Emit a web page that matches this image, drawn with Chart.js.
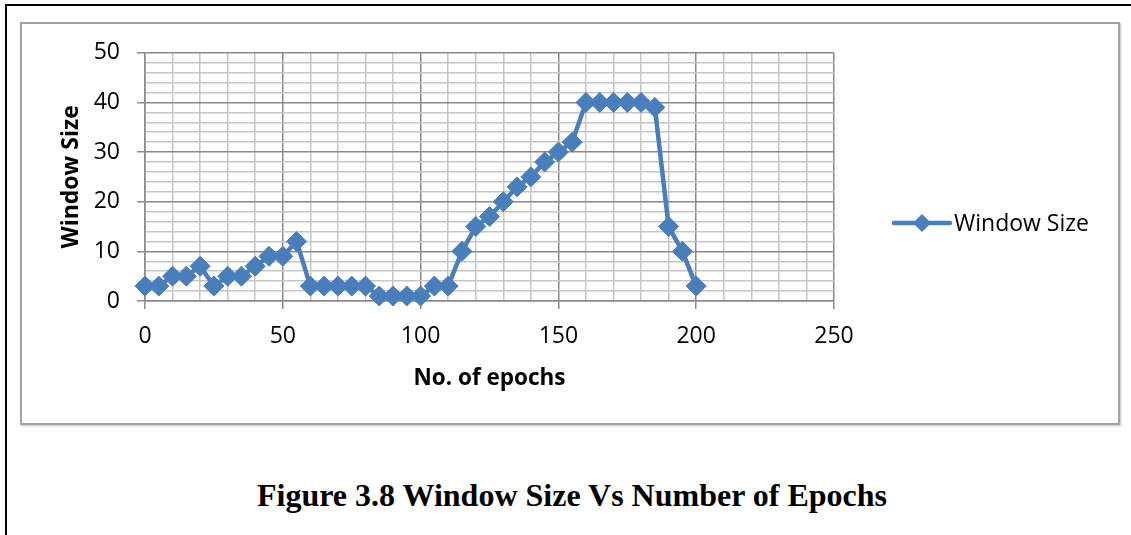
<!DOCTYPE html>
<html>
<head>
<meta charset="utf-8">
<script src="https://cdn.jsdelivr.net/npm/chart.js@4.4.1/dist/chart.umd.min.js"></script>
<style>
  html, body { margin: 0; padding: 0; background: #fff; }
  body { width: 1131px; height: 535px; position: relative; overflow: hidden; }
  #page-rule-top { position: absolute; left: 5px; top: 4px; width: 1126px; height: 2px; background: #000; }
  #page-rule-left { position: absolute; left: 5px; top: 4px; width: 2px; height: 531px; background: #000; }
  #chart-box {
    position: absolute; left: 20px; top: 22px; width: 1096px; height: 399px;
    border: 2px solid #a3a3a3; box-shadow: 1px 1px 2px rgba(0,0,0,0.25); background: #fff;
  }
  #plot { position: absolute; left: 20px; top: 22px; }
  #caption {
    position: absolute; left: 257px; top: 479px; white-space: nowrap;
    font-family: "Liberation Serif", "Times New Roman", serif; font-weight: bold;
    font-size: 32px; line-height: 32px; color: #000;
  }
</style>
</head>
<body>
<div id="page-rule-top"></div>
<div id="page-rule-left"></div>
<div id="chart-box"></div>
<canvas id="plot" width="1099" height="403"></canvas>
<div id="caption">Figure 3.8 Window Size Vs Number of Epochs</div>
<script>
// Epoch numbers and the window size recorded at each one
const epochs = [0, 5, 10, 15, 20, 25, 30, 35, 40, 45, 50, 55, 60, 65, 70, 75, 80, 85, 90, 95, 100,
                105, 110, 115, 120, 125, 130, 135, 140, 145, 150, 155, 160, 165, 170, 175, 180, 185, 190, 195, 200];
const windowSize = [3, 3, 5, 5, 7, 3, 5, 5, 7, 9, 9, 12, 3, 3, 3, 3, 3, 1, 1, 1, 1,
                    3, 3, 10, 15, 17, 20, 23, 25, 28, 30, 32, 40, 40, 40, 40, 40, 39, 15, 10, 3];
const seriesName = 'Window Size';
const xTitle = 'No. of epochs';
const yTitle = 'Window Size';
const xRange = [0, 250];
const yRange = [0, 50];

const BLUE = '#4A7EBB';
const MAJOR = '#8a8a8a';
const MINOR = '#c6c6c6';
const FONT = '"Open Sans", "Liberation Sans", sans-serif';

// Legend entry on the right: a line segment with a diamond marker and the series name
const sideLegend = {
  id: 'sideLegend',
  afterDraw(chart) {
    const ctx = chart.ctx;
    const ds = chart.data.datasets[0];
    const y = 201, x0 = 874, x1 = 930, xm = (x0 + x1) / 2, r = 9;
    ctx.save();
    ctx.strokeStyle = ds.borderColor;
    ctx.lineWidth = 4.5;
    ctx.lineCap = 'round';
    ctx.beginPath(); ctx.moveTo(x0, y); ctx.lineTo(x1, y); ctx.stroke();
    ctx.fillStyle = ds.pointBackgroundColor;
    ctx.beginPath();
    ctx.moveTo(xm, y - r); ctx.lineTo(xm + r, y); ctx.lineTo(xm, y + r); ctx.lineTo(xm - r, y);
    ctx.closePath(); ctx.fill();
    ctx.fillStyle = '#000';
    ctx.font = '23px ' + FONT;
    ctx.textBaseline = 'middle';
    ctx.textAlign = 'left';
    ctx.fillText(ds.label, 934, y + 1);
    ctx.restore();
  }
};

new Chart(document.getElementById('plot'), {
  type: 'line',
  data: {
    datasets: [{
      label: seriesName,
      data: epochs.map((e, i) => ({ x: e, y: windowSize[i] })),
      borderColor: BLUE,
      backgroundColor: BLUE,
      pointBackgroundColor: BLUE,
      pointBorderColor: BLUE,
      borderWidth: 4.5,
      pointStyle: 'rectRot',
      pointRadius: 10,
      pointBorderWidth: 1,
      tension: 0,
      clip: false
    }]
  },
  options: {
    responsive: false,
    animation: false,
    events: [],
    layout: { padding: { left: 0, top: 29, right: 285, bottom: 0 } },
    plugins: { legend: { display: false }, tooltip: { enabled: false } },
    scales: {
      x: {
        type: 'linear', min: xRange[0], max: xRange[1],
        afterFit(s) { s.height = 124; },
        border: { color: MAJOR, width: 1.5 },
        grid: {
          color: c => (c.tick.value % 50 === 0 ? MAJOR : MINOR),
          lineWidth: 1.5,
          tickColor: c => (c.tick.value % 50 === 0 ? MAJOR : 'rgba(0,0,0,0)'),
          tickLength: 8
        },
        ticks: {
          stepSize: 10, autoSkip: false, maxRotation: 0, padding: 14,
          color: '#000', font: { family: FONT, size: 23 },
          callback: v => (v % 50 === 0 ? String(v) : '')
        },
        title: {
          display: true, text: xTitle, color: '#000',
          font: { family: FONT, size: 22.5, weight: 'bold' },
          padding: { top: 0, bottom: 33 }
        }
      },
      y: {
        type: 'linear', min: yRange[0], max: yRange[1],
        afterFit(s) { s.width = 125; },
        border: { color: MAJOR, width: 1.5 },
        grid: {
          color: c => (c.tick.value % 10 === 0 ? MAJOR : MINOR),
          lineWidth: 1.5,
          tickColor: c => (c.tick.value % 10 === 0 ? MAJOR : 'rgba(0,0,0,0)'),
          tickLength: 8
        },
        ticks: {
          stepSize: 2, autoSkip: false, padding: 17,
          color: '#000', font: { family: FONT, size: 23 },
          callback: v => (v % 10 === 0 ? String(v) : '')
        },
        title: {
          display: true, text: yTitle, color: '#000',
          font: { family: FONT, size: 23, weight: 'bold' },
          padding: { top: 38, bottom: 0 }
        }
      }
    }
  },
  plugins: [sideLegend]
});
</script>
</body>
</html>
